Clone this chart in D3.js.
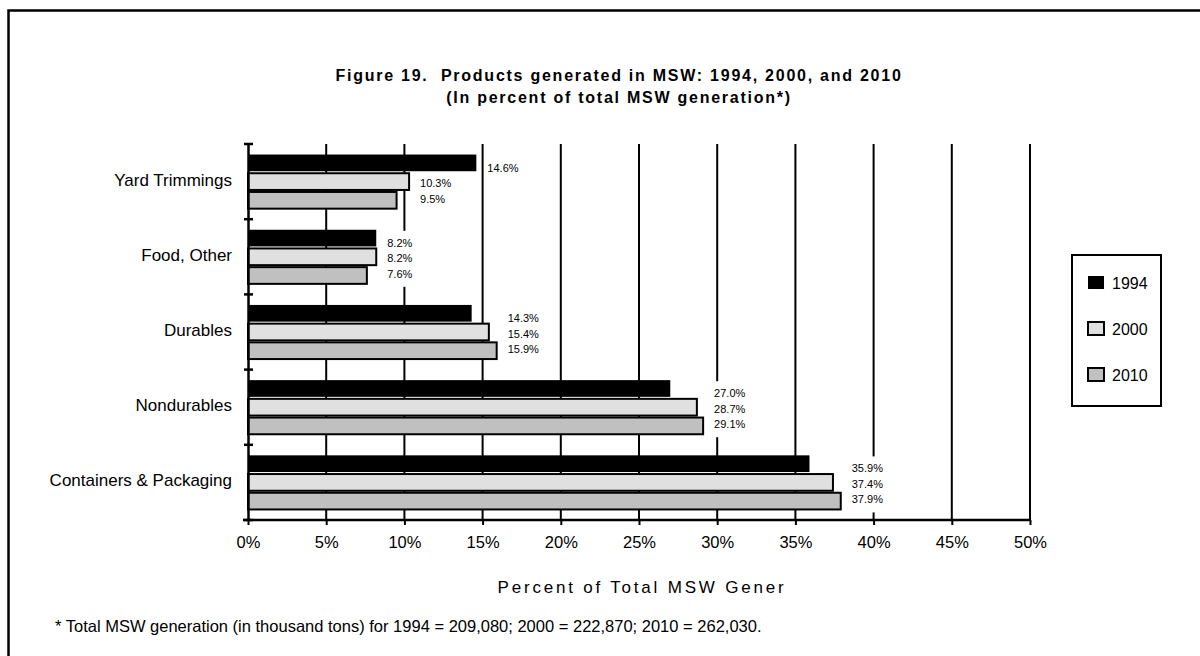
<!DOCTYPE html>
<html>
<head>
<meta charset="utf-8">
<script src="https://cdn.jsdelivr.net/npm/d3@7"></script>
<style>
  html, body { margin: 0; padding: 0; background: #fff; }
  svg { display: block; font-family: "Liberation Sans", Arial, sans-serif; }
  text { white-space: pre; }
</style>
</head>
<body>
<svg id="chart" width="1200" height="656"></svg>
<script>
// ---- data ----
const categories = ["Yard Trimmings", "Food, Other", "Durables", "Nondurables", "Containers & Packaging"];
const seriesNames = ["1994", "2000", "2010"];
const values1994 = [14.6, 8.2, 14.3, 27.0, 35.9];
const values2000 = [10.3, 8.2, 15.4, 28.7, 37.4];
const values2010 = [9.5, 7.6, 15.9, 29.1, 37.9];
const xTickValues = [0, 5, 10, 15, 20, 25, 30, 35, 40, 45, 50];
const titleLines = ["Figure 19.  Products generated in MSW: 1994, 2000, and 2010", "(In percent of total MSW generation*)"];
const axisTitle = "Percent of Total MSW Gener";
const footnote = "* Total MSW generation (in thousand tons) for 1994 = 209,080; 2000 = 222,870; 2010 = 262,030.";

const seriesValues = [values1994, values2000, values2010];
const fills = ["#000000", "#e0e0e0", "#c0c0c0"];

const svg = d3.select("#chart");
svg.append("rect").attr("width", 1200).attr("height", 656).attr("fill", "#fff");

// outer border (extends past right/bottom edge)
svg.append("rect").attr("x", 8.5).attr("y", 10.5).attr("width", 1250).attr("height", 700)
  .attr("fill", "none").attr("stroke", "#000").attr("stroke-width", 2.5);

// title
svg.append("g").selectAll("text").data(titleLines).join("text")
  .attr("x", 619).attr("y", (d, i) => 81 + i * 22)
  .attr("text-anchor", "middle").attr("font-weight", "bold")
  .attr("font-size", 16).attr("letter-spacing", 1.75).attr("fill", "#000")
  .text(d => d);

// scales
const plotLeft = 248, plotRight = 1030, plotTop = 144, plotBottom = 520;
const x = d3.scaleLinear().domain([0, 50]).range([plotLeft, plotRight]);
const y0 = d3.scaleBand().domain(categories).range([plotTop, plotBottom]).padding(0);
const y1 = d3.scaleBand().domain(seriesNames).range([0, y0.bandwidth()]).paddingInner(0).paddingOuter(0.51);

// gridlines
svg.append("g").selectAll("line").data(xTickValues.filter(v => v > 0)).join("line")
  .attr("x1", d => x(d)).attr("x2", d => x(d)).attr("y1", plotTop).attr("y2", plotBottom)
  .attr("stroke", "#000").attr("stroke-width", 2);

// data label layout
const labelItems = [];
const boxItems = [];
categories.forEach((c, ci) => {
  const vals = seriesValues.map(s => s[ci]);
  const n = vals.length;
  const center = y0(c) + y0.bandwidth() / 2;
  const items = vals.map((v, i) => {
    const ref = i < n - 1 ? d3.max(vals.slice(i)) : Math.max(vals[n - 2], vals[n - 1]);
    return { v, lx: x(ref) + 11, ly: center + (i - 1) * 15.5 + 1.5 };
  });
  labelItems.push(...items);
  boxItems.push({ x: d3.min(items, d => d.lx) - 4, y: items[0].ly - 12, h: items[n - 1].ly - items[0].ly + 25 });
});

// white boxes behind labels (hide gridlines)
svg.append("g").selectAll("rect").data(boxItems).join("rect")
  .attr("x", d => d.x).attr("y", d => d.y).attr("width", 40).attr("height", d => d.h)
  .attr("fill", "#fff");

// bars
const groups = svg.append("g").selectAll("g").data(categories).join("g")
  .attr("transform", c => `translate(0,${y0(c)})`);
groups.selectAll("rect").data((c, ci) => seriesNames.map((s, si) => ({ s, si, v: seriesValues[si][ci] })))
  .join("rect")
  .attr("x", x(0))
  .attr("y", d => y1(d.s) + 1)
  .attr("width", d => x(d.v) - x(0))
  .attr("height", y1.bandwidth() - 2)
  .attr("fill", d => fills[d.si])
  .attr("stroke", "#000")
  .attr("stroke-width", d => d.si === 0 ? 0 : 2);

// labels
svg.append("g").selectAll("text").data(labelItems).join("text")
  .attr("x", d => d.lx).attr("y", d => d.ly + 4)
  .attr("font-size", 11).attr("fill", "#000")
  .text(d => d.v.toFixed(1) + "%");

// x axis
const xAxis = svg.append("g").attr("transform", `translate(0,${plotBottom})`)
  .call(d3.axisBottom(x).tickValues(xTickValues).tickFormat(d => d + "%").tickSizeInner(5).tickSizeOuter(0));
xAxis.select(".domain").attr("stroke", "#000").attr("stroke-width", 2.5)
  .attr("d", `M${plotLeft - 5},0H${plotRight}`);
xAxis.selectAll(".tick line").attr("stroke", "#000").attr("stroke-width", 2);
xAxis.selectAll(".tick text").attr("y", 28).attr("dy", 0)
  .attr("font-size", 16.5).attr("fill", "#000").attr("font-family", "Liberation Sans, Arial, sans-serif");

// y axis
const yAxis = svg.append("g").attr("transform", `translate(${plotLeft},0)`)
  .call(d3.axisLeft(y0).tickSize(0).tickPadding(16));
yAxis.select(".domain").attr("stroke", "#000").attr("stroke-width", 2.5);
yAxis.selectAll(".tick text").attr("font-size", 17).attr("fill", "#000").attr("dy", 4)
  .attr("font-family", "Liberation Sans, Arial, sans-serif");
const boundaries = categories.map(c => y0(c)).concat([y0(categories[categories.length - 1]) + y0.bandwidth()]);
svg.append("g").selectAll("line").data(boundaries).join("line")
  .attr("x1", plotLeft - 4).attr("x2", plotLeft + 5).attr("y1", d => d).attr("y2", d => d)
  .attr("stroke", "#000").attr("stroke-width", 2.5);

// axis title
svg.append("text").attr("x", 642).attr("y", 593).attr("text-anchor", "middle")
  .attr("font-size", 17).attr("letter-spacing", 2.8).attr("fill", "#000").text(axisTitle);

// footnote
svg.append("text").attr("x", 55).attr("y", 632).attr("font-size", 16.5).attr("fill", "#000").text(footnote);

// legend
const lg = svg.append("g");
lg.append("rect").attr("x", 1072).attr("y", 255).attr("width", 89).attr("height", 151)
  .attr("fill", "#fff").attr("stroke", "#000").attr("stroke-width", 2);
const li = lg.selectAll("g").data(seriesNames).join("g")
  .attr("transform", (d, i) => `translate(1088,${276 + i * 46})`);
li.append("rect").attr("width", 16).attr("height", 13)
  .attr("fill", (d, i) => fills[i]).attr("stroke", "#000").attr("stroke-width", (d, i) => i === 0 ? 0 : 2);
li.append("text").attr("x", 24).attr("y", 13).attr("font-size", 16).attr("fill", "#000").text(d => d);
</script>
</body>
</html>
